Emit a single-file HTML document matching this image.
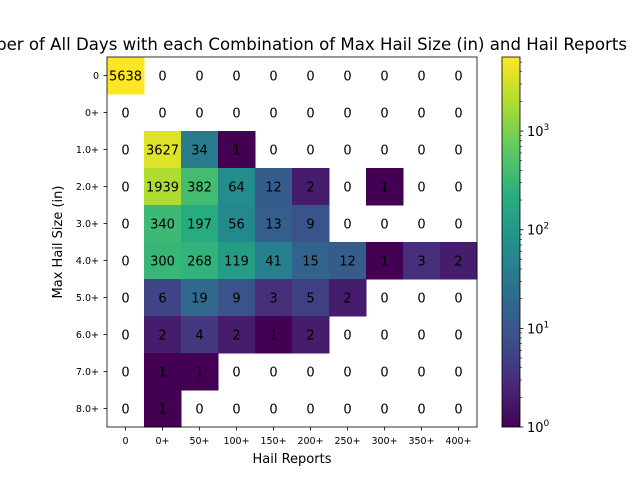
<!DOCTYPE html>
<html><head><meta charset="utf-8"><style>
body{margin:0;background:#fff;width:640px;height:480px;overflow:hidden}
svg text{font-family:"DejaVu Sans","Liberation Sans",sans-serif}
</style></head><body>
<svg id="chart" width="640" height="480" xmlns="http://www.w3.org/2000/svg"></svg>
<script>
const xCategories=["0","0+","50+","100+","150+","200+","250+","300+","350+","400+"];
const yCategories=["0","0+","1.0+","2.0+","3.0+","4.0+","5.0+","6.0+","7.0+","8.0+"];
const counts=[
[5638,0,0,0,0,0,0,0,0,0],
[0,0,0,0,0,0,0,0,0,0],
[0,3627,34,1,0,0,0,0,0,0],
[0,1939,382,64,12,2,0,1,0,0],
[0,340,197,56,13,9,0,0,0,0],
[0,300,268,119,41,15,12,1,3,2],
[0,6,19,9,3,5,2,0,0,0],
[0,2,4,2,1,2,0,0,0,0],
[0,1,1,0,0,0,0,0,0,0],
[0,1,0,0,0,0,0,0,0,0]];
const cbTicks=[1,10,100,1000];
const cbTickLabels=["10","10","10","10"];
const cbTickExps=["0","1","2","3"];

const NS="http://www.w3.org/2000/svg";
const svg=document.getElementById('chart');
function el(t,a,p){const e=document.createElementNS(NS,t);for(const k in a)e.setAttribute(k,a[k]);(p||svg).appendChild(e);return e;}
const X0=107,Y0=57,W=370,H=370;
const nx=xCategories.length,ny=yCategories.length,cw=W/nx,ch=H/ny;
let vmax=1;counts.forEach(r=>r.forEach(v=>{if(v>vmax)vmax=v;}));
const vmin=1;
const stops=["#440154","#472d7b","#3b528b","#2c728e","#21918c","#28ae80","#5ec962","#addc30","#fde725"];
function hex(h){return [1,3,5].map(i=>parseInt(h.substr(i,2),16));}
function viridis(t){t=Math.max(0,Math.min(1,t));const s=t*(stops.length-1);const i=Math.min(Math.floor(s),stops.length-2);const f=s-i;const a=hex(stops[i]),b=hex(stops[i+1]);return "rgb("+a.map((v,k)=>Math.round(v+(b[k]-v)*f)).join(",")+")";}
function norm(v){return Math.log(v/vmin)/Math.log(vmax/vmin);}
const xPos=i=>X0+i*cw, yPos=j=>Y0+j*ch;

const tt=el('text',{x:-43,y:50,'font-size':'16.5',textLength:'670',lengthAdjust:'spacingAndGlyphs'});tt.textContent="Number of All Days with each Combination of Max Hail Size (in) and Hail Reports";


const g=el('g',{});
counts.forEach((row,j)=>row.forEach((v,i)=>{
  if(v>0){const r=el('rect',{x:xPos(i),y:yPos(j),width:cw+0.5,height:ch+0.5,fill:viridis(norm(v))},g);
  }
  const t=el('text',{x:xPos(i)+cw/2,y:yPos(j)+ch/2+5,'text-anchor':'middle','font-size':'13',fill:'#000'},g);
  t.textContent=v;
}));
const fr=el('rect',{x:X0,y:Y0,width:W,height:H,fill:'none',stroke:'#000','stroke-width':0.8});

xCategories.forEach((c,i)=>{const x=xPos(i)+cw/2;el('line',{x1:x,x2:x,y1:Y0+H,y2:Y0+H+3.5,stroke:'#000','stroke-width':0.8});
 const t=el('text',{x:x,y:Y0+H+17,'text-anchor':'middle','font-size':'9.5'});t.textContent=c;});
yCategories.forEach((c,j)=>{const y=yPos(j)+ch/2;el('line',{x1:X0-3.5,x2:X0,y1:y,y2:y,stroke:'#000','stroke-width':0.8});
 const t=el('text',{x:X0-8,y:y+3.5,'text-anchor':'end','font-size':'9.5'});t.textContent=c;});
const xl=el('text',{x:X0+W/2,y:463,'text-anchor':'middle','font-size':'13'});xl.textContent="Hail Reports";
const yl=el('text',{x:62,y:Y0+H/2,'text-anchor':'middle','font-size':'13',transform:'rotate(-90 62 '+(Y0+H/2)+')'});yl.textContent="Max Hail Size (in)";

const CX=502,CW=18;
const defs=el('defs',{});const lg=el('linearGradient',{id:'vg',x1:0,y1:1,x2:0,y2:0},defs);
stops.forEach((s,i)=>el('stop',{offset:i/(stops.length-1),'stop-color':s},lg));
const cb=el('rect',{x:CX,y:Y0,width:CW,height:H,fill:'url(#vg)',stroke:'#000','stroke-width':0.8});

const cy=v=>Y0+H-norm(v)*H;
for(let d=1;d<vmax;d*=10)for(let m=2;m<10;m++){const v=d*m;if(v<=vmax){const y=cy(v);el('line',{x1:CX+CW,x2:CX+CW+2,y1:y,y2:y,stroke:'#000','stroke-width':0.6});}}
cbTicks.forEach((v,k)=>{const y=cy(v);el('line',{x1:CX+CW,x2:CX+CW+3.5,y1:y,y2:y,stroke:'#000','stroke-width':0.8});
 const t=el('text',{x:CX+CW+7,y:y+5,'font-size':'13'});t.textContent=cbTickLabels[k];
 const s=el('tspan',{dy:-6,'font-size':'9'},t);s.textContent=cbTickExps[k];
 });
</script>
</body></html>
